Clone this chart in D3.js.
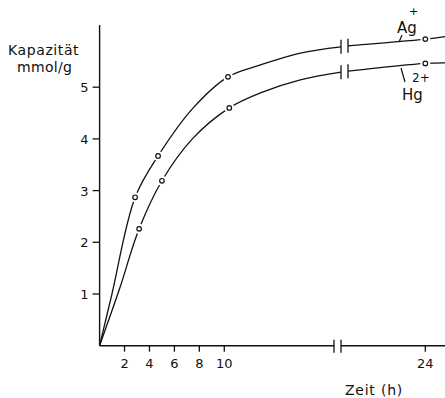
<!DOCTYPE html>
<html>
<head>
<meta charset="utf-8">
<script src="https://cdn.jsdelivr.net/npm/d3@7"></script>
<style>
  body { margin: 0; background: #fff; }
  text { font-family: "DejaVu Sans", sans-serif; fill: #111; }
</style>
</head>
<body>
<svg width="445" height="398"></svg>
<script>
// measured points (hours, mmol/g)
const agMarkHours = [2.85, 4.69, 10.3, 24];
const agMarkVals  = [2.87, 3.67, 5.2, 5.93];
const hgMarkHours = [3.17, 5.0, 10.4, 24];
const hgMarkVals  = [2.26, 3.19, 4.6, 5.46];

// points along the drawn curves, left of the axis break and right of it
const agLeftHours  = [0, 0.97, 2.85, 4.69, 7.51, 10.3, 12.9, 16.1, 21];
const agLeftVals   = [0, 0.98, 2.87, 3.67, 4.6, 5.2, 5.43, 5.66, 5.78];
const agRightHours = [21.25, 24, 24.7];
const agRightVals  = [5.8, 5.93, 5.98];
const hgLeftHours  = [0, 1.6, 3.17, 5.0, 7.44, 10.4, 12.9, 16.1, 21];
const hgLeftVals   = [0, 1.1, 2.26, 3.19, 4.0, 4.6, 4.89, 5.14, 5.29];
const hgRightHours = [21.25, 24, 24.7];
const hgRightVals  = [5.31, 5.46, 5.47];

const xTicks = [2, 4, 6, 8, 10, 24];
const yTicks = [1, 2, 3, 4, 5];

const svg = d3.select("svg");
svg.append("rect").attr("width", 445).attr("height", 398).attr("fill", "#fff");

// broken time axis: 0..18.8 h, gap, 21..24.7 h
const x = d3.scaleLinear().domain([0, 18.8, 21, 24.7]).range([99.6, 334, 341, 445]);
const y = d3.scaleLinear().domain([0, 5]).range([345.7, 87.2]);

const ink = "#111";

// y axis
svg.append("line").attr("x1", x(0)).attr("x2", x(0)).attr("y1", 25).attr("y2", y(0))
    .attr("stroke", ink).attr("stroke-width", 1.4);
yTicks.forEach(t => {
    svg.append("line").attr("x1", x(0) - 7).attr("x2", x(0)).attr("y1", y(t)).attr("y2", y(t))
        .attr("stroke", ink).attr("stroke-width", 1.3);
    svg.append("text").attr("x", x(0) - 11).attr("y", y(t) + 5)
        .attr("text-anchor", "end").attr("font-size", "13px").text(t);
});

// x axis with break
svg.append("line").attr("x1", x(0)).attr("x2", x(18.8)).attr("y1", y(0)).attr("y2", y(0))
    .attr("stroke", ink).attr("stroke-width", 1.4);
svg.append("line").attr("x1", x(21)).attr("x2", 445).attr("y1", y(0)).attr("y2", y(0))
    .attr("stroke", ink).attr("stroke-width", 1.4);
[18.8, 21].forEach(h => {
    svg.append("line").attr("x1", x(h)).attr("x2", x(h)).attr("y1", y(0) - 6).attr("y2", y(0) + 7)
        .attr("stroke", ink).attr("stroke-width", 1.3);
});
xTicks.forEach(t => {
    svg.append("line").attr("x1", x(t)).attr("x2", x(t)).attr("y1", y(0)).attr("y2", y(0) + 6)
        .attr("stroke", ink).attr("stroke-width", 1.3);
    svg.append("text").attr("x", x(t)).attr("y", y(0) + 22)
        .attr("text-anchor", "middle").attr("font-size", "13px").text(t);
});

// axis titles
svg.append("text").attr("x", 8).attr("y", 55).attr("font-size", "14px")
    .attr("letter-spacing", "0.6px").text("Kapazität");
svg.append("text").attr("x", 17).attr("y", 72).attr("font-size", "14px")
    .attr("letter-spacing", "0.3px").text("mmol/g");
svg.append("text").attr("x", 374).attr("y", 395).attr("font-size", "14px")
    .attr("text-anchor", "middle").attr("letter-spacing", "0.8px").text("Zeit (h)");

// curves
const line = d3.line().x(d => x(d[0])).y(d => y(d[1])).curve(d3.curveCatmullRom.alpha(0.5));
const curves = [
    [agLeftHours, agLeftVals], [agRightHours, agRightVals],
    [hgLeftHours, hgLeftVals], [hgRightHours, hgRightVals]
];
curves.forEach(([hs, vs]) => {
    svg.append("path").datum(hs.map((h, i) => [h, vs[i]]))
        .attr("d", line).attr("fill", "none").attr("stroke", ink).attr("stroke-width", 1.3);
});

// break marks on the curves
[[agLeftHours, agLeftVals, "end"], [agRightHours, agRightVals, "start"],
 [hgLeftHours, hgLeftVals, "end"], [hgRightHours, hgRightVals, "start"]].forEach(([hs, vs, w]) => {
    const i = w === "end" ? hs.length - 1 : 0;
    svg.append("line").attr("x1", x(hs[i])).attr("x2", x(hs[i]))
        .attr("y1", y(vs[i]) - 7).attr("y2", y(vs[i]) + 7)
        .attr("stroke", ink).attr("stroke-width", 1.3);
});

// markers with a white gap around them
const marks = agMarkHours.map((h, i) => [h, agMarkVals[i]])
    .concat(hgMarkHours.map((h, i) => [h, hgMarkVals[i]]));
svg.selectAll("circle.halo").data(marks).enter().append("circle")
    .attr("class", "halo").attr("cx", d => x(d[0])).attr("cy", d => y(d[1]))
    .attr("r", 5).attr("fill", "#fff");
svg.selectAll("circle.mark").data(marks).enter().append("circle")
    .attr("class", "mark").attr("cx", d => x(d[0])).attr("cy", d => y(d[1]))
    .attr("r", 2.3).attr("fill", "#fff").attr("stroke", ink).attr("stroke-width", 1.2);

// ion labels with leader lines
svg.append("line").attr("x1", 402).attr("y1", 35).attr("x2", 399).attr("y2", 42)
    .attr("stroke", ink).attr("stroke-width", 1.2);
svg.append("text").attr("x", 397).attr("y", 33).attr("font-size", "15px").text("Ag");
svg.append("text").attr("x", 409).attr("y", 15).attr("font-size", "11px").text("+");
svg.append("line").attr("x1", 401).attr("y1", 68).attr("x2", 405).attr("y2", 82)
    .attr("stroke", ink).attr("stroke-width", 1.2);
svg.append("text").attr("x", 402).attr("y", 100).attr("font-size", "15px").text("Hg");
svg.append("text").attr("x", 412).attr("y", 82).attr("font-size", "12px").text("2+");
</script>
</body>
</html>
